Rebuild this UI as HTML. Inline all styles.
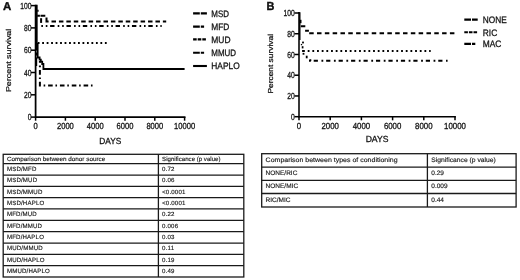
<!DOCTYPE html>
<html><head><meta charset="utf-8"><style>
html,body{margin:0;padding:0;background:#fff;width:520px;height:280px;overflow:hidden}
svg{display:block;will-change:transform}
text{font-family:"Liberation Sans",sans-serif;fill:#111;text-rendering:geometricPrecision}
</style></head><body>
<svg width="520" height="280" viewBox="0 0 520 280">
<rect width="520" height="280" fill="#fff"/>

<g stroke="#000" stroke-width="1.75" fill="none">
<path d="M35.6,4.7 V117.1 H185.5"/>
</g><g stroke="#000" stroke-width="1.5" fill="none">
<path d="M31,117.1 H35.6"/>
<path d="M31,94.8 H35.6"/>
<path d="M31,72.5 H35.6"/>
<path d="M31,50.2 H35.6"/>
<path d="M31,27.9 H35.6"/>
<path d="M31,5.6 H35.6"/>
<path d="M35.6,117.1 V120.7"/>
<path d="M65.4,117.1 V120.7"/>
<path d="M95.2,117.1 V120.7"/>
<path d="M125,117.1 V120.7"/>
<path d="M154.8,117.1 V120.7"/>
<path d="M184.6,117.1 V120.7"/>
</g>
<text x="31.55" y="120.3" font-size="8.9" text-anchor="end" textLength="3.73" lengthAdjust="spacingAndGlyphs" stroke="#111" stroke-width="0.28">0</text>
<text x="31.55" y="98" font-size="8.9" text-anchor="end" textLength="7.46" lengthAdjust="spacingAndGlyphs" stroke="#111" stroke-width="0.28">20</text>
<text x="31.55" y="75.7" font-size="8.9" text-anchor="end" textLength="7.46" lengthAdjust="spacingAndGlyphs" stroke="#111" stroke-width="0.28">40</text>
<text x="31.55" y="53.4" font-size="8.9" text-anchor="end" textLength="7.46" lengthAdjust="spacingAndGlyphs" stroke="#111" stroke-width="0.28">60</text>
<text x="31.55" y="31.1" font-size="8.9" text-anchor="end" textLength="7.46" lengthAdjust="spacingAndGlyphs" stroke="#111" stroke-width="0.28">80</text>
<text x="31.55" y="8.8" font-size="8.9" text-anchor="end" textLength="11.19" lengthAdjust="spacingAndGlyphs" stroke="#111" stroke-width="0.28">100</text>
<text x="35.6" y="129.3" font-size="8.9" text-anchor="middle" textLength="4.21" lengthAdjust="spacingAndGlyphs" stroke="#111" stroke-width="0.28">0</text>
<text x="65.4" y="129.3" font-size="8.9" text-anchor="middle" textLength="16.82" lengthAdjust="spacingAndGlyphs" stroke="#111" stroke-width="0.28">2000</text>
<text x="95.2" y="129.3" font-size="8.9" text-anchor="middle" textLength="16.82" lengthAdjust="spacingAndGlyphs" stroke="#111" stroke-width="0.28">4000</text>
<text x="125" y="129.3" font-size="8.9" text-anchor="middle" textLength="16.82" lengthAdjust="spacingAndGlyphs" stroke="#111" stroke-width="0.28">6000</text>
<text x="154.8" y="129.3" font-size="8.9" text-anchor="middle" textLength="16.82" lengthAdjust="spacingAndGlyphs" stroke="#111" stroke-width="0.28">8000</text>
<text x="184.6" y="129.3" font-size="8.9" text-anchor="middle" textLength="21.03" lengthAdjust="spacingAndGlyphs" stroke="#111" stroke-width="0.28">10000</text>
<text x="110.25" y="144.2" font-size="8.9" text-anchor="middle" textLength="22.0" lengthAdjust="spacingAndGlyphs" stroke="#111" stroke-width="0.28">DAYS</text>
<text transform="translate(11,60.4) rotate(-90) scale(1,0.8)" x="0" y="0" font-size="8.9" text-anchor="middle" textLength="63.4" lengthAdjust="spacingAndGlyphs" stroke="#111" stroke-width="0.28">Percent survival</text>
<text x="3" y="10.1" font-size="11.2" font-weight="bold" textLength="8.3" lengthAdjust="spacingAndGlyphs" stroke="#000" stroke-width="0.35">A</text>
<g stroke="#000" stroke-width="1.55" fill="none">
<path d="M299,12.1 V116.7 H455.9"/>
</g><g stroke="#000" stroke-width="1.5" fill="none">
<path d="M294.4,116.7 H299"/>
<path d="M294.4,95.96 H299"/>
<path d="M294.4,75.22 H299"/>
<path d="M294.4,54.48 H299"/>
<path d="M294.4,33.74 H299"/>
<path d="M294.4,13 H299"/>
<path d="M299,116.7 V120.3"/>
<path d="M330.2,116.7 V120.3"/>
<path d="M361.4,116.7 V120.3"/>
<path d="M392.6,116.7 V120.3"/>
<path d="M423.8,116.7 V120.3"/>
<path d="M455,116.7 V120.3"/>
</g>
<text x="294.8" y="119.9" font-size="8.9" text-anchor="end" textLength="3.73" lengthAdjust="spacingAndGlyphs" stroke="#111" stroke-width="0.28">0</text>
<text x="294.8" y="99.16" font-size="8.9" text-anchor="end" textLength="7.46" lengthAdjust="spacingAndGlyphs" stroke="#111" stroke-width="0.28">20</text>
<text x="294.8" y="78.42" font-size="8.9" text-anchor="end" textLength="7.46" lengthAdjust="spacingAndGlyphs" stroke="#111" stroke-width="0.28">40</text>
<text x="294.8" y="57.68" font-size="8.9" text-anchor="end" textLength="7.46" lengthAdjust="spacingAndGlyphs" stroke="#111" stroke-width="0.28">60</text>
<text x="294.8" y="36.94" font-size="8.9" text-anchor="end" textLength="7.46" lengthAdjust="spacingAndGlyphs" stroke="#111" stroke-width="0.28">80</text>
<text x="294.8" y="16.2" font-size="8.9" text-anchor="end" textLength="11.19" lengthAdjust="spacingAndGlyphs" stroke="#111" stroke-width="0.28">100</text>
<text x="299" y="128.9" font-size="8.9" text-anchor="middle" textLength="4.35" lengthAdjust="spacingAndGlyphs" stroke="#111" stroke-width="0.28">0</text>
<text x="330.2" y="128.9" font-size="8.9" text-anchor="middle" textLength="17.42" lengthAdjust="spacingAndGlyphs" stroke="#111" stroke-width="0.28">2000</text>
<text x="361.4" y="128.9" font-size="8.9" text-anchor="middle" textLength="17.42" lengthAdjust="spacingAndGlyphs" stroke="#111" stroke-width="0.28">4000</text>
<text x="392.6" y="128.9" font-size="8.9" text-anchor="middle" textLength="17.42" lengthAdjust="spacingAndGlyphs" stroke="#111" stroke-width="0.28">6000</text>
<text x="423.8" y="128.9" font-size="8.9" text-anchor="middle" textLength="17.42" lengthAdjust="spacingAndGlyphs" stroke="#111" stroke-width="0.28">8000</text>
<text x="455" y="128.9" font-size="8.9" text-anchor="middle" textLength="21.77" lengthAdjust="spacingAndGlyphs" stroke="#111" stroke-width="0.28">10000</text>
<text x="377.05" y="142.3" font-size="8.9" text-anchor="middle" textLength="22.8" lengthAdjust="spacingAndGlyphs" stroke="#111" stroke-width="0.28">DAYS</text>
<text transform="translate(273.3,63.8) rotate(-90) scale(1,0.84)" x="0" y="0" font-size="8.6" text-anchor="middle" textLength="59.6" lengthAdjust="spacingAndGlyphs" stroke="#111" stroke-width="0.28">Percent survival</text>
<text x="266.6" y="9.6" font-size="11.8" font-weight="bold" textLength="7.9" lengthAdjust="spacingAndGlyphs" stroke="#000" stroke-width="0.35">B</text>
<g fill="none" stroke="#000" stroke-width="2.0">
<path d="M35.6,5.7 H36.75 V44 H37.65 V57.5 H39.6 V59.6 H40.8 V61.6 H42.2 V64.0 H43.4 V69.0 H184.6" stroke-width="1.8"/>
<path d="M36.6,43 V50.4 M36.6,52.4 V55.5 M36.6,57.5 V66" stroke-width="1.2"/>
<path d="M37.2,10.7 H38.6"/>
<path d="M37.2,15.7 H39.9 M40.5,15.7 H45.3"/>
<path d="M46.5,17.6 V21.6 H48.6"/>
<path d="M41.1,18.2 V22.9"/>
<path d="M51.5,21.6 H166.2" stroke-dasharray="4.5 2.925"/>
<path d="M41.3,26.1 H161.7" stroke-dasharray="4.4 3.2 1.6 2.85 1.6 2.72" stroke-dashoffset="7.57"/>
<path d="M37.7,42.95 H107" stroke-dasharray="1.8 2.679"/>
<path d="M39.9,61 V85.5 H93.2" stroke-dasharray="4.6 2.75 1.6 2.88" stroke-dashoffset="2.79"/>
</g>
<g fill="none" stroke="#000" stroke-width="2.0">
<path d="M298,12.9 H299.8 V40" stroke-width="1.4"/>
<path d="M300.6,19.8 V23.2" stroke-width="1.8"/>
<path d="M300.8,26.2 H305.3 M305.1,30.8 H308.9"/>
<path d="M309.2,33.3 H455" stroke-dasharray="4.5 3.317"/>
<path d="M302.1,50.95 H430.7" stroke-dasharray="1.8 2.87" stroke-dashoffset="-0.93"/>
<path d="M302.1,50.95 H304"/>
</g>
<g fill="#000">
<rect x="302.1" y="41.6" width="1.8" height="1.8"/>
<rect x="300.85" y="43.95" width="1.3" height="1.3"/>
<rect x="301.75" y="46.2" width="1.7" height="2.2"/>
<rect x="302.6" y="52.9" width="1.8" height="1.8"/>
<rect x="305.8" y="55.7" width="1.8" height="2.6"/>
<rect x="309.5" y="59.3" width="1.8" height="1.8"/>
</g>
<g fill="none" stroke="#000" stroke-width="2.0">
<path d="M309.0,60.65 H447.6" stroke-dasharray="1.8 2.9 4.2 3.556" stroke-dashoffset="0"/>
</g>
<path d="M193.1,13.4 H199.8 M200.8,13.4 H206.9" stroke="#000" stroke-width="2.1"/>
<text x="211.3" y="16.75" font-size="9.4" textLength="17.7" lengthAdjust="spacingAndGlyphs" stroke="#111" stroke-width="0.28">MSD</text>
<path d="M193.1,26.6 H199.8 M200.8,26.6 H204.1" stroke="#000" stroke-width="2.1"/>
<text x="211.3" y="29.95" font-size="9.4" textLength="18.1" lengthAdjust="spacingAndGlyphs" stroke="#111" stroke-width="0.28">MFD</text>
<path d="M193.1,39.4 H196.7 M197.7,39.4 H201.3 M202.3,39.4 H205.9" stroke="#000" stroke-width="2.1"/>
<text x="211.3" y="42.75" font-size="9.4" textLength="19.2" lengthAdjust="spacingAndGlyphs" stroke="#111" stroke-width="0.28">MUD</text>
<path d="M193.1,52.7 H199.8 M200.8,52.7 H204.1" stroke="#000" stroke-width="2.1"/>
<text x="211.3" y="56.05" font-size="9.4" textLength="24.8" lengthAdjust="spacingAndGlyphs" stroke="#111" stroke-width="0.28">MMUD</text>
<path d="M193.1,66.0 H206.9" stroke="#000" stroke-width="2.1"/>
<text x="211.3" y="69.35" font-size="9.4" textLength="28.4" lengthAdjust="spacingAndGlyphs" stroke="#111" stroke-width="0.28">HAPLO</text>
<path d="M464.3,19.6 H471 M472,19.6 H477.7" stroke="#000" stroke-width="2.1"/>
<text x="482.8" y="22.95" font-size="9.4" textLength="24.0" lengthAdjust="spacingAndGlyphs" stroke="#111" stroke-width="0.28">NONE</text>
<path d="M464.3,32.3 H467.9 M468.9,32.3 H472.5 M473.5,32.3 H477.1" stroke="#000" stroke-width="2.1"/>
<text x="482.8" y="35.65" font-size="9.4" textLength="14.4" lengthAdjust="spacingAndGlyphs" stroke="#111" stroke-width="0.28">RIC</text>
<path d="M464.3,43.9 H471 M472,43.9 H475.3" stroke="#000" stroke-width="2.1"/>
<text x="482.8" y="47.25" font-size="9.4" textLength="18.6" lengthAdjust="spacingAndGlyphs" stroke="#111" stroke-width="0.28">MAC</text>
<g stroke="#1a1a1a" stroke-width="1.3" fill="none">
<rect x="3.2" y="154.3" width="240.6" height="122.7"/>
<path d="M3.2,163.7 H243.8"/>
<path d="M3.2,175.1 H243.8"/>
<path d="M3.2,186.4 H243.8"/>
<path d="M3.2,197.7 H243.8"/>
<path d="M3.2,208.9 H243.8"/>
<path d="M3.2,220.3 H243.8"/>
<path d="M3.2,231.7 H243.8"/>
<path d="M3.2,243.1 H243.8"/>
<path d="M3.2,254.4 H243.8"/>
<path d="M3.2,265.7 H243.8"/>
<path d="M158.4,154.3 V277.0"/>
</g>
<text x="6.9" y="160.7" font-size="6.1" textLength="98.3" lengthAdjust="spacingAndGlyphs" stroke="#222" stroke-width="0.14">Comparison between donor source</text>
<text x="162.1" y="160.7" font-size="6.1" textLength="58.4" lengthAdjust="spacingAndGlyphs" stroke="#222" stroke-width="0.14">Significance (p value)</text>
<text x="6.9" y="171.1" font-size="6.1" letter-spacing="0.18" stroke="#222" stroke-width="0.14">MSD/MFD</text>
<text x="162.1" y="171.1" font-size="6.1" letter-spacing="0.18" stroke="#222" stroke-width="0.14">0.72</text>
<text x="6.9" y="182.45" font-size="6.1" letter-spacing="0.18" stroke="#222" stroke-width="0.14">MSD/MUD</text>
<text x="162.1" y="182.45" font-size="6.1" letter-spacing="0.18" stroke="#222" stroke-width="0.14">0.06</text>
<text x="6.9" y="193.75" font-size="6.1" letter-spacing="0.18" stroke="#222" stroke-width="0.14">MSD/MMUD</text>
<text x="162.1" y="193.75" font-size="6.1" letter-spacing="0.18" stroke="#222" stroke-width="0.14">&lt;0.0001</text>
<text x="6.9" y="205" font-size="6.1" letter-spacing="0.18" stroke="#222" stroke-width="0.14">MSD/HAPLO</text>
<text x="162.1" y="205" font-size="6.1" letter-spacing="0.18" stroke="#222" stroke-width="0.14">&lt;0.0001</text>
<text x="6.9" y="216.3" font-size="6.1" letter-spacing="0.18" stroke="#222" stroke-width="0.14">MFD/MUD</text>
<text x="162.1" y="216.3" font-size="6.1" letter-spacing="0.18" stroke="#222" stroke-width="0.14">0.22</text>
<text x="6.9" y="227.7" font-size="6.1" letter-spacing="0.18" stroke="#222" stroke-width="0.14">MFD/MMUD</text>
<text x="162.1" y="227.7" font-size="6.1" letter-spacing="0.18" stroke="#222" stroke-width="0.14">0.006</text>
<text x="6.9" y="239.1" font-size="6.1" letter-spacing="0.18" stroke="#222" stroke-width="0.14">MFD/HAPLO</text>
<text x="162.1" y="239.1" font-size="6.1" letter-spacing="0.18" stroke="#222" stroke-width="0.14">0.03</text>
<text x="6.9" y="250.45" font-size="6.1" letter-spacing="0.18" stroke="#222" stroke-width="0.14">MUD/MMUD</text>
<text x="162.1" y="250.45" font-size="6.1" letter-spacing="0.18" stroke="#222" stroke-width="0.14">0.11</text>
<text x="6.9" y="261.75" font-size="6.1" letter-spacing="0.18" stroke="#222" stroke-width="0.14">MUD/HAPLO</text>
<text x="162.1" y="261.75" font-size="6.1" letter-spacing="0.18" stroke="#222" stroke-width="0.14">0.19</text>
<text x="6.9" y="273.05" font-size="6.1" letter-spacing="0.18" stroke="#222" stroke-width="0.14">MMUD/HAPLO</text>
<text x="162.1" y="273.05" font-size="6.1" letter-spacing="0.18" stroke="#222" stroke-width="0.14">0.49</text>
<g stroke="#1a1a1a" stroke-width="1.3" fill="none">
<rect x="261.7" y="153.7" width="254.4" height="53.3"/>
<path d="M261.7,167.1 H516.1"/>
<path d="M261.7,180.3 H516.1"/>
<path d="M261.7,193.5 H516.1"/>
<path d="M427.4,153.7 V207.0"/>
</g>
<text x="265.6" y="161.84" font-size="6.5" textLength="132.0" lengthAdjust="spacingAndGlyphs" stroke="#222" stroke-width="0.14">Comparison between types of conditioning</text>
<text x="431.3" y="161.84" font-size="6.5" textLength="64.5" lengthAdjust="spacingAndGlyphs" stroke="#222" stroke-width="0.14">Significance (p value)</text>
<text x="265.6" y="175.14" font-size="6.5" stroke="#222" stroke-width="0.14">NONE/RIC</text>
<text x="431.3" y="175.14" font-size="6.5" stroke="#222" stroke-width="0.14">0.29</text>
<text x="265.6" y="188.34" font-size="6.5" stroke="#222" stroke-width="0.14">NONE/MIC</text>
<text x="431.3" y="188.34" font-size="6.5" stroke="#222" stroke-width="0.14">0.009</text>
<text x="265.6" y="201.69" font-size="6.5" stroke="#222" stroke-width="0.14">RIC/MIC</text>
<text x="431.3" y="201.69" font-size="6.5" stroke="#222" stroke-width="0.14">0.44</text>
</svg>
</body></html>
